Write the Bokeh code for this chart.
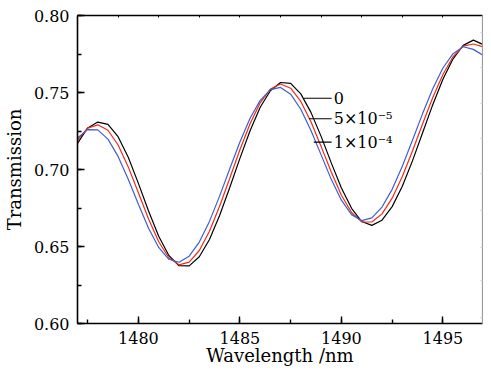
from bokeh.plotting import figure
from bokeh.models import (LinearAxis, SingleIntervalTicker, FixedTicker, Range1d,
                          NumeralTickFormatter)
from bokeh.core.properties import value
from bokeh.embed import file_html
from bokeh.resources import INLINE

# ---- data ----
wavelength = [1477.0, 1477.5, 1478.0, 1478.5, 1479.0, 1479.5, 1480.0, 1480.5,
              1481.0, 1481.5, 1482.0, 1482.5, 1483.0, 1483.5, 1484.0, 1484.5,
              1485.0, 1485.5, 1486.0, 1486.5, 1487.0, 1487.5, 1488.0, 1488.5,
              1489.0, 1489.5, 1490.0, 1490.5, 1491.0, 1491.5, 1492.0, 1492.5,
              1493.0, 1493.5, 1494.0, 1494.5, 1495.0, 1495.5, 1496.0, 1496.5,
              1497.0]
t_0 = [0.717, 0.727, 0.7308, 0.7293, 0.7213, 0.7079, 0.6910, 0.6730,
       0.6566, 0.6442, 0.6375, 0.6374, 0.6433, 0.6545, 0.6701, 0.6883,
       0.7072, 0.7252, 0.7404, 0.7511, 0.7565, 0.7559, 0.7491, 0.7371,
       0.7215, 0.7043, 0.6880, 0.6748, 0.6662, 0.6637, 0.6671, 0.6759,
       0.6891, 0.7056, 0.7239, 0.7421, 0.7586, 0.7719, 0.7806, 0.7840,
       0.7810]
t_5e5 = [0.719, 0.7269, 0.7290, 0.7255, 0.7159, 0.7017, 0.6849, 0.6679,
         0.6531, 0.6427, 0.6381, 0.6399, 0.6474, 0.6599, 0.6761, 0.6943,
         0.7128, 0.7297, 0.7433, 0.7522, 0.7555, 0.7528, 0.7442, 0.7310,
         0.7150, 0.6984, 0.6833, 0.6721, 0.6660, 0.6659, 0.6712, 0.6814,
         0.6954, 0.7120, 0.7297, 0.7468, 0.7617, 0.7732, 0.7801, 0.7815,
         0.7795]
t_1e4 = [0.7205, 0.7259, 0.7257, 0.7197, 0.7085, 0.6937, 0.6774, 0.6619,
         0.6494, 0.6417, 0.6398, 0.6437, 0.6529, 0.6663, 0.6827, 0.7005,
         0.7179, 0.7333, 0.7449, 0.7519, 0.7533, 0.7489, 0.7391, 0.7253,
         0.7095, 0.6936, 0.6801, 0.6707, 0.6668, 0.6686, 0.6756, 0.6871,
         0.7021, 0.7190, 0.7363, 0.7524, 0.7659, 0.7752, 0.7797, 0.7780,
         0.7740]
series_labels = ["0", "5×10⁻⁵", "1×10⁻⁴"]
top_ticks = [1479, 1481, 1483, 1485, 1487, 1489, 1491, 1493, 1495]
right_ticks = [0.7892, 0.7665, 0.7429, 0.7202, 0.6975, 0.6734, 0.6494, 0.628, 0.604]

# annotation placement (leader lines + labels)
leader_x0 = [1488.16, 1488.40, 1488.64]
leader_x1 = [1489.52, 1489.52, 1489.52]
leader_y = [0.7463, 0.7330, 0.7178]
label_x = [1489.62, 1489.62, 1489.62]

FONT = "DejaVu Serif"
colors = ["#000000", "#f02a1a", "#3c5fd0"]

p = figure(width=483, height=370, output_backend="svg", toolbar_location=None,
           x_range=Range1d(1477.0, 1496.95), y_range=Range1d(0.60, 0.80),
           min_border_left=67, min_border_right=1, min_border_top=15,
           min_border_bottom=47, x_axis_label="Wavelength /nm",
           y_axis_label="Transmission")
p.background_fill_color = "white"
p.border_fill_color = "white"
p.outline_line_color = None
p.xgrid.visible = False
p.ygrid.visible = False

for ys, c in zip([t_0, t_5e5, t_1e4], colors):
    p.line(wavelength, ys, line_color=c, line_width=1.2)

p.segment(x0=leader_x0, y0=leader_y, x1=leader_x1, y1=leader_y,
          line_color="black", line_width=1.1)
p.text(x=label_x, y=leader_y, text=series_labels, text_font=value(FONT),
       text_font_size="16px", text_baseline="middle", text_align="left",
       text_color="black")

xa = p.xaxis[0]
xa.ticker = SingleIntervalTicker(interval=5, num_minor_ticks=2)
ya = p.yaxis[0]
ya.ticker = SingleIntervalTicker(interval=0.05, num_minor_ticks=2)
ya.formatter = NumeralTickFormatter(format="0.00")
for ax in (xa, ya):
    ax.major_tick_in = 7
    ax.major_tick_out = 0
    ax.minor_tick_in = 4
    ax.minor_tick_out = 0
    ax.axis_line_width = 1.6
    ax.major_tick_line_width = 1.4
    ax.minor_tick_line_width = 1.4
    ax.major_label_text_font = FONT
    ax.major_label_text_font_size = "16px"
    ax.major_label_text_color = "black"
    ax.axis_label_text_font = FONT
    ax.axis_label_text_font_size = "18px"
    ax.axis_label_text_font_style = "normal"
    ax.axis_label_text_color = "black"
xa.major_label_standoff = 8
xa.axis_label_standoff = -2
ya.major_label_standoff = 8
ya.axis_label_standoff = 6

top = LinearAxis(ticker=FixedTicker(ticks=top_ticks, minor_ticks=[]),
                 major_label_text_font_size="1px", major_label_text_color=None,
                 major_tick_in=2, major_tick_out=0, minor_tick_in=0,
                 minor_tick_out=0, axis_line_width=1.4, major_label_standoff=0)
p.add_layout(top, "above")
right = LinearAxis(ticker=FixedTicker(ticks=right_ticks, minor_ticks=[]),
                   major_label_text_font_size="1px", major_label_text_color=None,
                   major_tick_in=2, major_tick_out=0, minor_tick_in=0,
                   minor_tick_out=0, axis_line_color="#9a9a9a",
                   major_tick_line_color="#cccccc", axis_line_width=1.2,
                   major_label_standoff=0)
p.add_layout(right, "right")

open("out.html", "w").write(file_html(p, INLINE))
